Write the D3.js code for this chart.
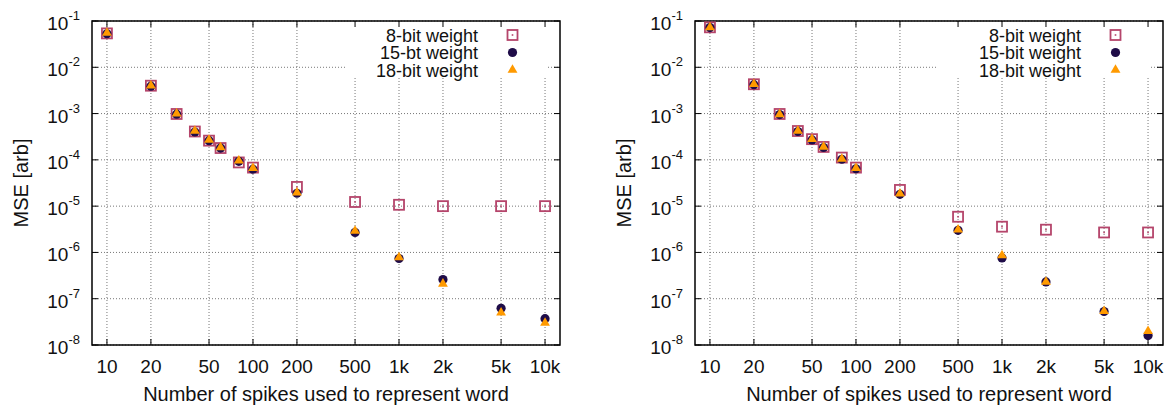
<!DOCTYPE html>
<html>
<head>
<meta charset="utf-8">
<script src="https://cdn.jsdelivr.net/npm/d3@7"></script>
<style>
  body { margin: 0; background: #fff; }
  svg { display: block; font-family: "Liberation Sans", Arial, sans-serif; }
</style>
</head>
<body>
<svg id="chart" width="1168" height="407"></svg>
<script>
// spike counts (x) shared by both panels
var spikes = [10, 20, 30, 40, 50, 60, 80, 100, 200, 500, 1000, 2000, 5000, 10000];

// left panel
var leftW8  = [0.054, 0.0040, 0.00098, 4.1e-4, 2.6e-4, 1.8e-4, 8.8e-5, 6.8e-5, 2.6e-5, 1.23e-5, 1.07e-5, 1.0e-5, 1.0e-5, 1.0e-5];
var leftW15 = [0.053, 0.0039, 0.00097, 4.0e-4, 2.6e-4, 1.8e-4, 9.3e-5, 6.3e-5, 1.9e-5, 2.7e-6, 7.4e-7, 2.6e-7, 6.2e-8, 3.7e-8];
var leftW18 = [0.055, 0.0040, 0.00099, 4.2e-4, 2.7e-4, 1.85e-4, 9.6e-5, 6.6e-5, 1.95e-5, 2.9e-6, 7.8e-7, 2.1e-7, 5.0e-8, 3.0e-8];
var leftLabels = ["8-bit weight", "15-bt weight", "18-bit weight"];

// right panel
var rightW8  = [0.073, 0.0043, 0.00098, 4.2e-4, 2.8e-4, 1.9e-4, 1.12e-4, 6.8e-5, 2.24e-5, 5.9e-6, 3.6e-6, 3.1e-6, 2.7e-6, 2.7e-6];
var rightW15 = [0.072, 0.0042, 0.00095, 4.1e-4, 2.7e-4, 1.85e-4, 1.03e-4, 6.4e-5, 1.8e-5, 3.0e-6, 7.6e-7, 2.3e-7, 5.3e-8, 1.6e-8];
var rightW18 = [0.073, 0.0043, 0.00096, 4.2e-4, 2.8e-4, 1.9e-4, 1.05e-4, 6.6e-5, 1.85e-5, 3.1e-6, 8.6e-7, 2.3e-7, 5.4e-8, 2.0e-8];
var rightLabels = ["8-bit weight", "15-bit weight", "18-bit weight"];

var xTicks = [10, 20, 50, 100, 200, 500, 1000, 2000, 5000, 10000];
var xTickLabels = ["10", "20", "50", "100", "200", "500", "1k", "2k", "5k", "10k"];
var yTickExps = [-1, -2, -3, -4, -5, -6, -7, -8];

var colors = { w8: "#b5456b", w15: "#1f0c48", w18: "#ff9a00" };

var width = 468, height = 324;
var svg = d3.select("#chart");

var x = d3.scaleLog().domain([7.9, 12660]).range([0, width]);
var y = d3.scaleLog().domain([1e-8, 1e-1]).range([height, 0]);

function drawPanel(left, w8, w15, w18, labels, legendBox) {
  var g = svg.append("g").attr("transform", "translate(" + left + ",21)");

  // grid
  g.selectAll("line.vgrid").data(xTicks).enter().append("line")
      .attr("x1", d => x(d)).attr("x2", d => x(d))
      .attr("y1", 0).attr("y2", height)
      .attr("stroke", "#777").attr("stroke-dasharray", "1,2");
  g.selectAll("line.hgrid").data(yTickExps).enter().append("line")
      .attr("x1", 0).attr("x2", width)
      .attr("y1", d => y(Math.pow(10, d))).attr("y2", d => y(Math.pow(10, d)))
      .attr("stroke", "#777").attr("stroke-dasharray", "1,2");

  // opaque legend background hides the grid
  g.append("rect")
      .attr("x", legendBox[0]).attr("y", 1)
      .attr("width", width - 13 - legendBox[0]).attr("height", 56)
      .attr("fill", "#fff");

  // ticks on all four sides, pointing inward
  xTicks.forEach(function(t) {
    g.append("line").attr("x1", x(t)).attr("x2", x(t)).attr("y1", height).attr("y2", height - 6).attr("stroke", "#000");
    g.append("line").attr("x1", x(t)).attr("x2", x(t)).attr("y1", 0).attr("y2", 6).attr("stroke", "#000");
  });
  yTickExps.forEach(function(e) {
    var yy = y(Math.pow(10, e));
    g.append("line").attr("x1", 0).attr("x2", 6).attr("y1", yy).attr("y2", yy).attr("stroke", "#000");
    g.append("line").attr("x1", width).attr("x2", width - 6).attr("y1", yy).attr("y2", yy).attr("stroke", "#000");
  });

  g.append("rect").attr("width", width).attr("height", height)
      .attr("fill", "none").attr("stroke", "#000").attr("stroke-width", 1.5);

  // tick labels
  g.selectAll("text.xt").data(xTicks).enter().append("text")
      .attr("x", d => x(d)).attr("y", height + 28)
      .attr("text-anchor", "middle").attr("font-size", 19).attr("fill", "#111")
      .text((d, i) => xTickLabels[i]);

  yTickExps.forEach(function(e) {
    var t = g.append("text")
        .attr("x", -12).attr("y", y(Math.pow(10, e)) + 9)
        .attr("text-anchor", "end").attr("font-size", 19).attr("fill", "#111");
    t.append("tspan").text("10");
    t.append("tspan").attr("dy", -10).attr("font-size", 13).text(e);
  });

  // axis titles
  g.append("text")
      .attr("transform", "translate(-71," + (height / 2) + ") rotate(-90)")
      .attr("text-anchor", "middle").attr("dy", "0.35em")
      .attr("font-size", 20).attr("fill", "#111")
      .text("MSE [arb]");
  g.append("text")
      .attr("x", width / 2).attr("y", height + 56)
      .attr("text-anchor", "middle").attr("font-size", 20).attr("fill", "#111")
      .text("Number of spikes used to represent word");

  // points
  var pts = spikes.map((s, i) => ({ s: s, a: w8[i], b: w15[i], c: w18[i] }));

  var sq = g.selectAll("g.sq").data(pts).enter().append("g")
      .attr("transform", d => "translate(" + x(d.s) + "," + y(d.a) + ")");
  sq.append("rect").attr("x", -5).attr("y", -5).attr("width", 10).attr("height", 10)
      .attr("fill", "#fff").attr("fill-opacity", 0).attr("stroke", colors.w8).attr("stroke-width", 1.8);
  sq.append("rect").attr("x", -0.8).attr("y", -0.8).attr("width", 1.6).attr("height", 1.6)
      .attr("fill", colors.w8);

  g.selectAll("circle.c15").data(pts).enter().append("circle")
      .attr("cx", d => x(d.s)).attr("cy", d => y(d.b)).attr("r", 4.6)
      .attr("fill", colors.w15);

  var tri = d3.symbol().type(d3.symbolTriangle).size(42);
  g.selectAll("path.t18").data(pts).enter().append("path")
      .attr("d", tri)
      .attr("transform", d => "translate(" + x(d.s) + "," + y(d.c) + ")")
      .attr("fill", colors.w18);

  // legend
  var rows = [14, 31.5, 49];
  var lx = width - 82, sx = width - 47.5;
  labels.forEach(function(lab, i) {
    g.append("text").attr("x", lx).attr("y", rows[i] + 6.5)
        .attr("text-anchor", "end").attr("font-size", 18).attr("fill", "#111")
        .text(lab);
  });
  var ls = g.append("g").attr("transform", "translate(" + sx + "," + rows[0] + ")");
  ls.append("rect").attr("x", -5).attr("y", -5).attr("width", 10).attr("height", 10)
      .attr("fill", "none").attr("stroke", colors.w8).attr("stroke-width", 1.8);
  ls.append("rect").attr("x", -0.8).attr("y", -0.8).attr("width", 1.6).attr("height", 1.6)
      .attr("fill", colors.w8);
  g.append("circle").attr("cx", sx).attr("cy", rows[1]).attr("r", 4.6).attr("fill", colors.w15);
  g.append("path").attr("d", tri).attr("transform", "translate(" + sx + "," + rows[2] + ")")
      .attr("fill", colors.w18);
}

drawPanel(92, leftW8, leftW15, leftW18, leftLabels, [253]);
drawPanel(695, rightW8, rightW15, rightW18, rightLabels, [243]);
</script>
</body>
</html>
